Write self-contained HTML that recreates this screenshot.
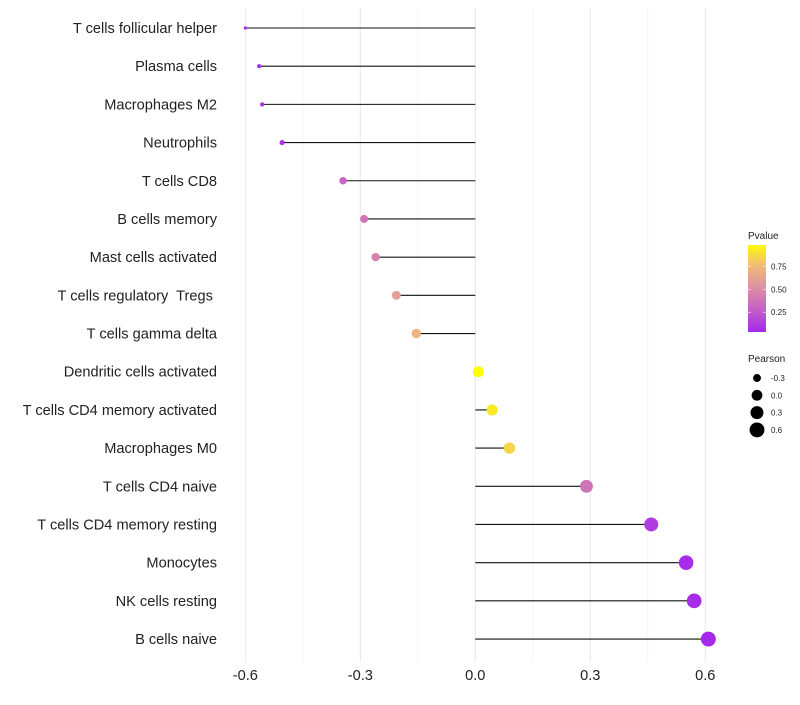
<!DOCTYPE html>
<html><head><meta charset="utf-8"><style>
body{margin:0;background:#fff;font-family:"Liberation Sans",sans-serif}
text{white-space:pre}
</style></head><body>
<svg id="chart" width="800" height="700" xmlns="http://www.w3.org/2000/svg" font-family="Liberation Sans, sans-serif"></svg>
<script>
const categories=["T cells follicular helper","Plasma cells","Macrophages M2","Neutrophils","T cells CD8","B cells memory","Mast cells activated","T cells regulatory  Tregs ","T cells gamma delta","Dendritic cells activated","T cells CD4 memory activated","Macrophages M0","T cells CD4 naive","T cells CD4 memory resting","Monocytes","NK cells resting","B cells naive"];
const pearson=[-0.60,-0.564,-0.556,-0.504,-0.345,-0.29,-0.26,-0.206,-0.154,0.008,0.044,0.089,0.29,0.459,0.55,0.571,0.608];
const pvalue=[0.05,0.06,0.06,0.08,0.3,0.38,0.45,0.6,0.72,1.0,0.92,0.85,0.38,0.12,0.05,0.05,0.04];
const xTicks=[-0.6,-0.3,0.0,0.3,0.6];
const pvTicks=[0.25,0.5,0.75];
const sizeTicks=[-0.3,0.0,0.3,0.6];

const svg=document.getElementById('chart');
const NS='http://www.w3.org/2000/svg';
const x=v=>475.3+v*383.3;
const y=i=>28+i*38.19;
const r=v=>Math.sqrt(Math.max(1,29+44*v));
const stops=[[0,[160,32,240]],[0.25,[194,90,203]],[0.5,[220,140,166]],[0.75,[239,187,122]],[1,[255,255,0]]];
function col(p){p=Math.max(0,Math.min(1,p));for(let k=1;k<stops.length;k++){if(p<=stops[k][0]){const a=stops[k-1],b=stops[k],t=(p-a[0])/(b[0]-a[0]);return 'rgb('+a[1].map((c,j)=>Math.round(c+(b[1][j]-c)*t)).join(',')+')';}}return 'rgb(255,255,0)';}
function el(tag,attrs,txt){const e=document.createElementNS(NS,tag);for(const k in attrs)e.setAttribute(k,attrs[k]);if(txt!==undefined)e.textContent=txt;svg.appendChild(e);return e;}
for(let v=-0.75;v<=0.61;v+=0.15){const major=xTicks.some(t=>Math.abs(t-v)<1e-6);
 if(x(v)<230)continue;
 const g=el('line',{x1:x(v),x2:x(v),y1:8,y2:662,stroke:major?'#e8e8e8':'#f0f0f0','stroke-width':major?1:0.8});
 
 }
xTicks.forEach(t=>{const e=el('text',{x:x(t),y:680,'text-anchor':'middle','font-size':14.6,fill:'#222'},t.toFixed(1));
 
 });
categories.forEach((c,i)=>{
 const lab=el('text',{x:217,y:y(i)+5,'text-anchor':'end','font-size':14.6,fill:'#222'},c);
 
 
 const ln=el('line',{x1:x(0),x2:x(pearson[i]),y1:y(i),y2:y(i),stroke:'#111','stroke-width':1.1});
 
 
 const d=el('circle',{cx:x(pearson[i]),cy:y(i),r:r(pearson[i]),fill:col(pvalue[i])});
 
 
});
const t1=el('text',{x:748,y:239,'font-size':10,fill:'#222'},'Pvalue');


const defs=el('defs',{});
const lg=document.createElementNS(NS,'linearGradient');lg.setAttribute('id','pg');lg.setAttribute('x1','0');lg.setAttribute('y1','1');lg.setAttribute('x2','0');lg.setAttribute('y2','0');
for(let k=0;k<=20;k++){const p=0.03+k/20*0.95;const s=document.createElementNS(NS,'stop');s.setAttribute('offset',k/20);s.setAttribute('stop-color',col(p));lg.appendChild(s);}
defs.appendChild(lg);
const bar=el('rect',{x:748,y:245,width:18,height:87,fill:'url(#pg)'});


const py=p=>335-p*91.2;
pvTicks.forEach(p=>{el('line',{x1:748,x2:751,y1:py(p),y2:py(p),stroke:'#fff','stroke-width':0.6});el('line',{x1:763,x2:766,y1:py(p),y2:py(p),stroke:'#fff','stroke-width':0.6});
 const e=el('text',{x:771,y:py(p)+3,'font-size':8,fill:'#222'},p.toFixed(2));
 
 });
const t2=el('text',{x:748,y:362,'font-size':10,fill:'#222'},'Pearson');


sizeTicks.forEach((s,k)=>{const cy=378+k*17.3;
 const c=el('circle',{cx:757,cy:cy,r:r(s),fill:'#000'});
 
 
 const e=el('text',{x:771,y:cy+3,'font-size':8,fill:'#222'},s.toFixed(1));
 
 });
</script>
</body></html>
